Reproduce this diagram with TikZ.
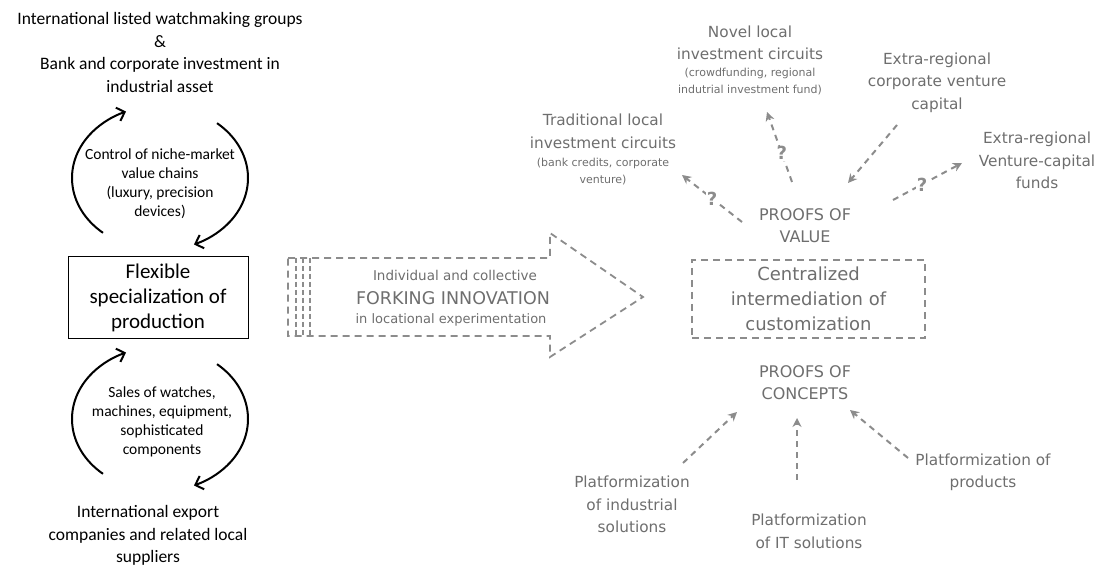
\documentclass[tikz,border=0pt]{standalone}
\usepackage{fontspec}
\setmainfont{Carlito}
\newfontfamily\handfont{DejaVu Sans}
\usetikzlibrary{positioning, arrows.meta}

\definecolor{pencil}{HTML}{6E6E6E}
\definecolor{dashgray}{HTML}{8C8C8C}
\newcommand{\fsz}[2]{\fontsize{#1}{#2}\selectfont}

\begin{document}
\begin{tikzpicture}[
    x=1pt, y=1pt,
    plain/.style={align=center, inner sep=0pt, font=\fsz{17.5}{22.5}},
    loopnote/.style={align=center, inner sep=0pt, font=\fsz{15.5}{19}},
    hand/.style={align=center, inner sep=0pt, text=pencil, font={\handfont\fsz{15.3}{22.5}}},
    handsmall/.style={align=center, inner sep=0pt, text=pencil, font={\handfont\fsz{11}{17}}},
    handcaps/.style={align=center, inner sep=0pt, text=pencil, font={\handfont\fsz{16}{22}}},
    cyc/.style={line width=2pt, -{Straight Barb[length=7pt, width=14pt]}},
    darr/.style={dashgray, line width=2pt, dash pattern=on 6pt off 5pt,
                 -{Stealth[length=9pt, width=9pt]}},
    dline/.style={dashgray, line width=1.8pt, dash pattern=on 7pt off 5pt},
    qmark/.style={text=dashgray, fill=white, inner sep=1pt,
                  font={\handfont\bfseries\fsz{18}{18}}}
]
\useasboundingbox (0,0) rectangle (1097,569);

% left column: production system and its two loops
\node[plain] (groups) at (160,516.5) {International listed watchmaking groups\\\&\\Bank and corporate investment in\\industrial asset};
\node[draw, line width=1pt, minimum width=180, minimum height=82, align=center,
      font=\fsz{21}{25}] (flex) at (158,271) {Flexible\\specialization of\\production};
\node[plain] (export) at (148,33.5) {International export\\companies and related local\\suppliers};

\coordinate (uploop) at (160,391);
\coordinate (lowloop) at (160,150);
\node[loopnote] (control) at (160,385.5) {Control of niche-market\\value chains\\(luxury, precision\\devices)};
\node[loopnote] (sales) at (162,147) {Sales of watches,\\machines, equipment,\\sophisticated\\components};

\foreach \c in {uploop, lowloop} {
  \draw[cyc] (\c) ++(229.6:88 and 72) arc[start angle=229.6, end angle=112.7, x radius=88, y radius=72];
  \draw[cyc] (\c) ++(49.6:88 and 72) arc[start angle=49.6, end angle=-67.3, x radius=88, y radius=72];
}

% forking arrow
\draw[dline] (288,311) -- (550,311) -- (550,336) -- (643,272) -- (550,212)
  -- (550,233) -- (288,233) -- cycle;
\foreach \x in {296,303,310}
  \draw[dline, dash pattern=on 5pt off 3pt] (\x,311) -- (\x,233);
\node[handsmall, font={\handfont\fsz{13.5}{17}}] (forkup) at (455,294) {Individual and collective};
\node[handcaps, font={\handfont\fsz{17.5}{17}}] (fork) at (453,271) {FORKING INNOVATION};
\node[handsmall, font={\handfont\fsz{13}{17}}] (forkdown) at (451,249) {in locational experimentation};

% intermediation hub
\node[draw=dashgray, line width=1.8pt, dash pattern=on 7pt off 5pt, minimum width=233,
      minimum height=78, hand, font={\handfont\fsz{18}{25}}] (hub) at (808.5,270)
  {Centralized\\intermediation of\\customization};
\node[handcaps] (value) at (805,343) {PROOFS OF\\VALUE};
\node[handcaps] (concept) at (805,186.5) {PROOFS OF\\CONCEPTS};

% investment circuits
\node[hand] (trad) at (603,437.5) {Traditional local\\investment circuits};
\node[handsmall] (tradnote) at (603,397.5) {(bank credits, corporate\\venture)};
\node[hand] (novel) at (750,526) {Novel local\\investment circuits};
\node[handsmall] (novelnote) at (750,487.5) {(crowdfunding, regional\\indutrial investment fund)};
\node[hand] (corpvc) at (937,486.5) {Extra-regional\\corporate venture\\capital};
\node[hand] (vcfund) at (1037,408.5) {Extra-regional\\Venture-capital\\funds};

% platforms
\node[hand] (platind) at (632,64.5) {Platformization\\of industrial\\solutions};
\node[hand] (platit) at (809,37.5) {Platformization\\of IT solutions};
\node[hand] (platprod) at (983,96.5) {Platformization of\\products};

% connector ends
\coordinate (valtrad) at (742,347);  \coordinate (tradin) at (682,394);
\coordinate (valnovel) at (792,387); \coordinate (novelin) at (767,457);
\coordinate (corpout) at (897,444);  \coordinate (valcorp) at (848,386);
\coordinate (valvc) at (893,369);    \coordinate (vcin) at (962,406);
\coordinate (indout) at (683,106);   \coordinate (conind) at (737,157);
\coordinate (itout) at (797,89);     \coordinate (conit) at (797,151);
\coordinate (prodout) at (908,111);  \coordinate (conprod) at (850,159);

\draw[darr] (valtrad) -- node[qmark, pos=0.5] {?} (tradin);
\draw[darr] (valnovel) -- node[qmark, pos=0.41] {?} (novelin);
\draw[darr] (corpout) -- (valcorp);
\draw[darr] (valvc) -- node[qmark, pos=0.42] {?} (vcin);
\draw[darr] (indout) -- (conind);
\draw[darr] (itout) -- (conit);
\draw[darr] (prodout) -- (conprod);
\end{tikzpicture}
\end{document}
